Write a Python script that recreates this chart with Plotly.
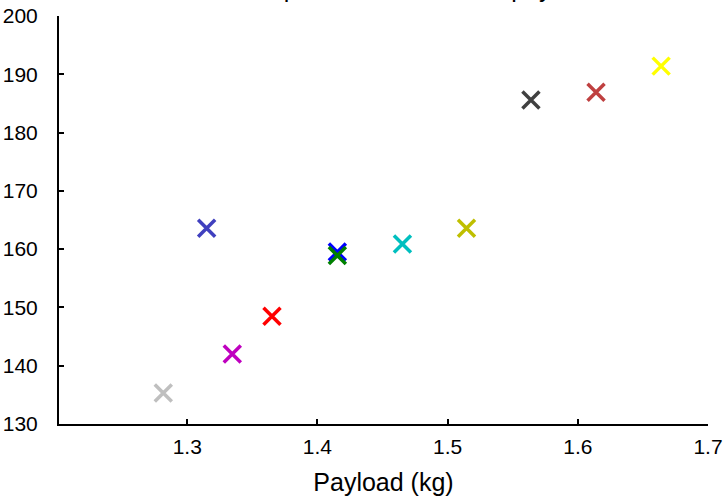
import plotly.graph_objects as go

payload = [1.2816, 1.3149, 1.3346, 1.3651, 1.4153, 1.4153, 1.4653, 1.5145, 1.5640, 1.6140, 1.6640]
value = [135.3, 163.6, 142.0, 148.5, 159.5, 158.9, 160.9, 163.6, 185.6, 186.9, 191.4]
colors = ["#BFBFBF", "#4040BF", "#BF00BF", "#FF0000", "#0000FF", "#008000",
          "#00BFBF", "#BFBF00", "#404040", "#BF4040", "#FFFF00"]
x_ticks = [1.3, 1.4, 1.5, 1.6, 1.7]
y_ticks = [130, 140, 150, 160, 170, 180, 190, 200]
title_text = "Maximum speed of UAV versus payload"
x_label = "Payload (kg)"

FONT = "Liberation Sans, Arial, Helvetica, sans-serif"

fig = go.Figure()
for xv, yv, c in zip(payload, value, colors):
    fig.add_trace(go.Scatter(
        x=[xv], y=[yv], mode="markers",
        marker=dict(symbol="x-thin", size=17, line=dict(color=c, width=3.5), color=c),
        showlegend=False, hoverinfo="skip", cliponaxis=False))

axis_common = dict(showline=True, linecolor="black", linewidth=2, mirror=False,
                   ticks="inside", ticklen=5, tickwidth=2, tickcolor="black",
                   showgrid=False, zeroline=False, automargin=False,
                   ticklabeloverflow="allow",
                   tickfont=dict(family=FONT, size=21, color="black"))

fig.update_layout(
    width=723, height=496,
    margin=dict(l=59, r=15, t=16, b=72),
    plot_bgcolor="white", paper_bgcolor="white",
    xaxis=dict(range=[1.2015, 1.7], tickvals=x_ticks, ticktext=[str(v) for v in x_ticks],
               ticklabelstandoff=3,
               title=dict(text=x_label, font=dict(family=FONT, size=25, color="black"), standoff=27),
               **axis_common),
    yaxis=dict(range=[130, 200], tickvals=y_ticks, ticktext=[str(v) for v in y_ticks],
               ticklabelstandoff=15, **axis_common),
    annotations=[dict(text=title_text, xref="paper", yref="paper", x=0.5, y=1.0,
                      xshift=-6, yshift=12, xanchor="center", yanchor="bottom", showarrow=False,
                      font=dict(family=FONT, size=25, color="black"))],
)

fig.write_html("out.html")
